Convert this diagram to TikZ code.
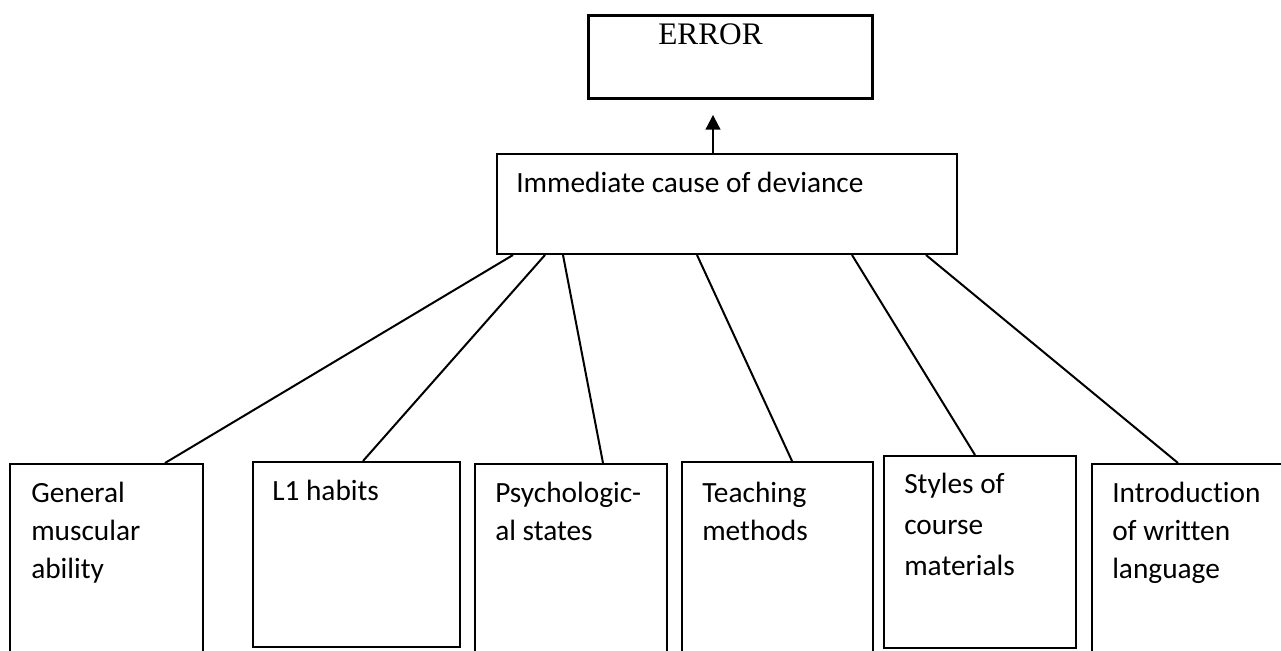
\documentclass[tikz,border=0pt]{standalone}
\usepackage{fontspec}
\setmainfont{Carlito}[Ligatures=NoCommon]
\newfontfamily\timesf{Liberation Serif}
\usetikzlibrary{calc,arrows.meta}
\tikzset{
  boxnode/.style={draw, line width=1.5pt, inner sep=0pt, anchor=north west},
  errbox/.style={boxnode, line width=2.2pt},
  txt/.style={inner sep=0pt, anchor=base west, align=left, font=\fontsize{22}{28.5}\selectfont},
  txtwide/.style={txt, font=\fontsize{22}{31}\selectfont},
  errtxt/.style={inner sep=0pt, anchor=base west, font=\timesf\fontsize{23.5}{28}\selectfont},
  link/.style={line width=1.5pt},
  uparrow/.style={line width=1.5pt, -{Triangle[length=11pt,width=11pt]}}
}
\begin{document}
\begin{tikzpicture}[x=0.75pt,y=-0.75pt]
\useasboundingbox (0,0) rectangle (1281,650);
\clip (0,0) rectangle (1281,650);
% top box
\node[errbox, minimum width=213pt, minimum height=62.25pt] (err) at (587,14) {};
\node[errtxt] (errt) at ($(err.north west)+(71,30)$) {ERROR};
% middle box
\node[boxnode, minimum width=345pt, minimum height=75pt] (mid) at (496,153) {};
\node[txt] (midt) at ($(mid.north west)+(20,39)$) {Immediate cause of deviance};
% bottom boxes (text anchored at the baseline of its last line)
\node[boxnode, minimum width=144.75pt, minimum height=195pt] (gen) at (9,463) {};
\node[txt] (gent) at ($(gen.north west)+(22,115)$) {General\\muscular\\ability};
\node[boxnode, minimum width=155.25pt, minimum height=138.75pt] (lone) at (252,461) {};
\node[txt] (lonet) at ($(lone.north west)+(20,39)$) {L1 habits};
\node[boxnode, minimum width=144pt, minimum height=195pt] (psy) at (474,463) {};
\node[txt] (psyt) at ($(psy.north west)+(21,77)$) {Psychologic-\\al states};
\node[boxnode, minimum width=143.25pt, minimum height=195pt] (tea) at (681,461) {};
\node[txt] (teat) at ($(tea.north west)+(21,79)$) {Teaching\\methods};
\node[boxnode, minimum width=144pt, minimum height=144pt] (sty) at (883,455) {};
\node[txtwide] (styt) at ($(sty.north west)+(21,120.7)$) {Styles of\\course\\materials};
\node[boxnode, minimum width=156.75pt, minimum height=195pt] (intro) at (1091,463) {};
\node[txt] (introt) at ($(intro.north west)+(21,115)$) {Introduction\\of written\\language};
% connectors
\draw[uparrow] ($(mid.north west)+(217,0)$) -- ($(err.south west)+(126,15)$);
\draw[link] ($(mid.south west)+(17,0)$) -- ($(gen.north west)+(156,0)$);
\draw[link] ($(mid.south west)+(49,0)$) -- ($(lone.north west)+(111,0)$);
\draw[link] ($(mid.south west)+(67,0)$) -- ($(psy.north west)+(129,0)$);
\draw[link] ($(mid.south west)+(201,0)$) -- ($(tea.north west)+(111,0)$);
\draw[link] ($(mid.south west)+(356,0)$) -- ($(sty.north west)+(92,0)$);
\draw[link] ($(mid.south west)+(430,0)$) -- ($(intro.north west)+(87,0)$);
\end{tikzpicture}
\end{document}
